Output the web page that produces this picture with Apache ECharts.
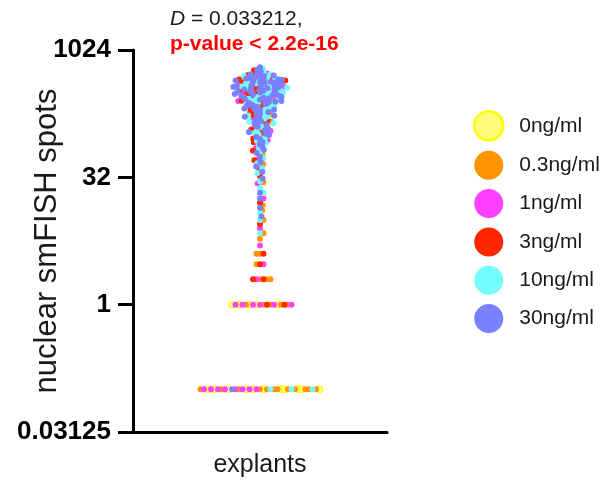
<!DOCTYPE html>
<html><head><meta charset="utf-8">
<script src="https://cdn.jsdelivr.net/npm/echarts@6/dist/echarts.min.js"></script>
<style>html,body{margin:0;padding:0;background:#fff}#c{width:615px;height:488px}</style>
</head><body><div id="c"></div>
<script>
// ---------------- data ----------------
const categories = ['explants'];
const groupNames = ['0ng/ml', '0.3ng/ml', '1ng/ml', '3ng/ml', '10ng/ml', '30ng/ml'];
const yTickLabels = ['0.03125', '1', '32', '1024'];
const zeroPlotValue = 0.1; // where cells with 0 spots are drawn on the log axis
const annotationLine1 = 'D = 0.033212,';
const annotationLine2 = 'p-value < 2.2e-16';

const spots_0ng = [1, 1, 1, 1, 1, 0, 0, 0, 0, 0, 0, 0, 0, 0, 0, 0];
const spots_03ng = [464, 390, 335, 264, 222, 179, 146, 117, 98, 60, 46, 28, 15, 13, 10, 7, 6, 4, 4, 3, 2, 2, 2,
  1, 1, 1, 1, 1, 0, 0, 0, 0, 0, 0, 0, 0, 0, 0, 0, 0];
const spots_1ng = [540, 472, 438, 407, 377, 343, 314, 295, 282, 255, 238, 215, 191, 169, 150, 122, 113, 88, 70, 52,
  44, 27, 18, 8, 5, 3, 2, 1, 1, 1, 1, 1, 1, 0, 0, 0, 0, 0, 0, 0, 0];
const spots_3ng = [590, 535, 515, 475, 459, 445, 418, 395, 382, 371, 347, 326, 312, 302, 278, 258, 249, 227, 211,
  186, 174, 152, 140, 118, 108, 92, 83, 66, 51, 39, 33, 16, 9, 4, 3, 2, 2, 1, 1];
const spots_10ng = [615, 550, 525, 505, 482, 466, 452, 436, 425, 412, 400, 388, 378, 372, 368, 361, 352, 340, 330,
  325, 318, 308, 298, 293, 284, 272, 268, 262, 253, 245, 233, 221, 210, 203, 193, 180, 172, 168, 158, 145, 139,
  134, 124, 112, 106, 103, 93, 86, 81, 71, 64, 54, 47, 41, 36, 29, 24, 21, 12, 10, 7, 0, 0, 0];
const spots_30ng = [640, 600, 575, 545, 530, 520, 510, 500, 495, 485, 478, 470, 462, 455, 450, 445, 440, 432, 428,
  420, 415, 410, 402, 398, 392, 385, 380, 375, 370, 366, 362, 355, 350, 345, 338, 332, 328, 322, 316, 310, 305,
  300, 296, 292, 286, 280, 275, 270, 266, 260, 256, 251, 247, 243, 236, 230, 224, 218, 213, 208, 204, 201, 196,
  189, 183, 177, 171, 166, 160, 154, 148, 142, 137, 132, 127, 121, 115, 110, 105, 101, 96, 90, 84, 79, 74, 68,
  62, 56, 49, 43, 37, 31, 21, 18, 14, 11, 0];

const groupValues = [spots_0ng, spots_03ng, spots_1ng, spots_3ng, spots_10ng, spots_30ng];

// ---------------- styles ----------------
const groupColors = ['#FFFC79', '#FF9300', '#FF40FF', '#FF2600', '#73FDFF', '#7A81FF'];
const FONT = '"Liberation Sans", Arial, Helvetica, sans-serif';
const TEXT = '#1a1a1a';
const DOT = 6;
const SEP = 3.5;

const chart = echarts.init(document.getElementById('c'), null, { renderer: 'canvas' });

const baseOption = {
  animation: false,
  backgroundColor: '#fff',
  grid: { left: 133, right: 228, top: 50, bottom: 56, containLabel: false, outerBoundsMode: 'none' },
  xAxis: [
    {
      type: 'category', data: categories, position: 'bottom',
      axisLine: { onZero: false, lineStyle: { color: '#000', width: 3 } },
      axisTick: { alignWithLabel: true, length: 15, lineStyle: { color: '#000', width: 3 } },
      axisLabel: { fontSize: 25, color: TEXT, margin: 21, fontFamily: FONT },
      splitLine: { show: false }
    },
    { type: 'value', min: -1, max: 1, show: false }
  ],
  yAxis: {
    type: 'log', logBase: 2, min: 0.03125, max: 1024, interval: 5, splitNumber: 3,
    position: 'left',
    axisLine: { show: true, onZero: false, lineStyle: { color: '#000', width: 3 } },
    axisTick: { show: true, length: 15, lineStyle: { color: '#000', width: 3 } },
    axisLabel: {
      fontSize: 26, fontWeight: 'bold', color: '#000', margin: 22, fontFamily: FONT,
      formatter: function (v) {
        const e = Math.round(Math.log2(v));
        const idx = Math.round((e + 5) / 5);
        return yTickLabels[idx] !== undefined ? yTickLabels[idx] : '';
      }
    },
    splitLine: { show: false },
    minorTick: { show: false },
    name: 'nuclear smFISH spots', nameLocation: 'middle', nameRotate: 90, nameGap: 70,
    nameMoveOverlap: false,
    nameTextStyle: { fontSize: 31, color: TEXT, fontFamily: FONT }
  },
  legend: {
    orient: 'vertical', left: 468, top: 105, itemWidth: 29, itemHeight: 29, itemGap: 9.3,
    icon: 'circle', selectedMode: false,
    textStyle: { fontSize: 21, color: TEXT, fontFamily: FONT, padding: [0, 0, 0, 11] },
    data: groupNames.map(function (n, i) {
      return i === 0
        ? { name: n, itemStyle: { color: groupColors[0], borderColor: '#FFFB00', borderWidth: 2.5 } }
        : { name: n, itemStyle: { color: groupColors[i], borderWidth: 0 } };
    })
  },
  graphic: [
    {
      type: 'text', left: 170, top: 9,
      style: {
        text: '{i|D}' + annotationLine1.slice(1), fontSize: 21, fontFamily: FONT, fill: TEXT,
        rich: { i: { fontStyle: 'italic', fontSize: 21, fontFamily: FONT, fill: TEXT } }
      }
    },
    {
      type: 'text', left: 170, top: 34,
      style: { text: annotationLine2, fontSize: 21, fontWeight: 'bold', fontFamily: FONT, fill: '#FF0000' }
    }
  ],
  series: groupNames.map(function (n, i) {
    return {
      name: n, type: 'scatter', xAxisIndex: 1, yAxisIndex: 0, data: [],
      symbol: 'circle', symbolSize: i === 0 ? DOT + 1 : DOT,
      itemStyle: i === 0 ? { color: groupColors[0], borderColor: '#FFFB00', borderWidth: 1, opacity: 1 }
                         : { color: groupColors[i], opacity: 1 },
      emphasis: { disabled: true }
    };
  })
};
chart.setOption(baseOption);

// ---------------- beeswarm layout in pixel space ----------------
const pts = [];
groupValues.forEach(function (vals, g) {
  const seen = {};
  const total = {};
  vals.forEach(function (v) { total[v] = (total[v] || 0) + 1; });
  vals.forEach(function (v) {
    const k = seen[v] || 0;
    seen[v] = k + 1;
    const plotV = v === 0 ? zeroPlotValue : v;
    const py = chart.convertToPixel({ yAxisIndex: 0 }, plotV);
    pts.push({ g: g, v: v, plotV: plotV, py: py, rank: (k + 0.5) / total[v] });
  });
});
pts.sort(function (a, b) {
  if (a.v !== b.v) return b.v - a.v;
  if (a.rank !== b.rank) return a.rank - b.rank;
  return b.g - a.g;
});
const placed = [];
pts.forEach(function (p) {
  const near = placed.filter(function (q) { return Math.abs(q.py - p.py) < SEP; });
  const cands = [0];
  near.forEach(function (q) {
    const dy = p.py - q.py;
    const dx = Math.sqrt(SEP * SEP - dy * dy);
    cands.push(q.px + dx, q.px - dx);
  });
  cands.sort(function (a, b) { return Math.abs(a) - Math.abs(b); });
  let chosen = 0;
  for (let c = 0; c < cands.length; c++) {
    const x = cands[c];
    let ok = true;
    for (let j = 0; j < near.length; j++) {
      const dx = x - near[j].px, dy = p.py - near[j].py;
      if (dx * dx + dy * dy < SEP * SEP - 1e-6) { ok = false; break; }
    }
    if (ok) { chosen = x; break; }
  }
  p.px = chosen;
  placed.push(p);
});
const cx = chart.convertToPixel({ xAxisIndex: 1 }, 0);
const seriesData = groupNames.map(function () { return []; });
placed.forEach(function (p) {
  const xv = chart.convertFromPixel({ xAxisIndex: 1 }, cx + p.px);
  seriesData[p.g].push([xv, p.plotV]);
});
chart.setOption({ series: seriesData.map(function (d) { return { data: d }; }) });
</script>
</body></html>
